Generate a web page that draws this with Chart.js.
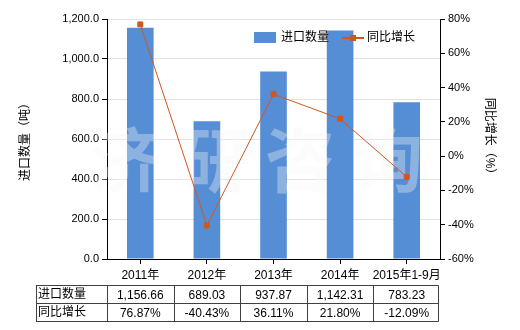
<!DOCTYPE html>
<html>
<head>
<meta charset="utf-8">
<script src="https://cdn.jsdelivr.net/npm/chart.js@4"></script>
<style>
  html, body { margin: 0; padding: 0; background: #fff; }
  #wrap { width: 520px; height: 330px; position: relative; }
</style>
</head>
<body>
<div id="wrap"><canvas id="c" width="520" height="330"></canvas></div>
<script>
const categories = ['2011年', '2012年', '2013年', '2014年', '2015年1-9月'];
const importQty = [1156.66, 689.03, 937.87, 1142.31, 783.23];
const growthPct = [76.87, -40.43, 36.11, 21.80, -12.09];
const qtyName = '进口数量';
const growthName = '同比增长';
const leftTitle = '进口数量（吨）';
const rightTitle = '同比增长（%）';
const watermark = ['济', '研', '咨', '询'];

const FONT = "'Liberation Sans', 'Noto Sans CJK SC', sans-serif";
const BAR = '#558ed5';
const LINE = '#d2561c';

function fmtQty(v) {
    return v.toLocaleString('en-US', { minimumFractionDigits: 2, maximumFractionDigits: 2 });
}

const extras = {
    id: 'extras',
    afterDatasetDraw(chart, args) {
        // watermark sits above the bars, under the line
        if (args.index !== 1) return;
        const ctx = chart.ctx;
        ctx.save();
        ctx.fillStyle = 'rgba(245,245,245,0.35)';
        ctx.font = "bold 70px 'Noto Sans CJK SC'";
        ctx.textAlign = 'center';
        ctx.textBaseline = 'middle';
        const xs = [125, 215, 300, 388];
        watermark.forEach((ch, i) => ctx.fillText(ch, xs[i], 160));
        ctx.restore();
    },
    afterDraw(chart) {
        const ctx = chart.ctx;
        const x = chart.scales.x;
        ctx.save();

        // legend
        ctx.font = '12px ' + FONT;
        ctx.textBaseline = 'middle';
        ctx.fillStyle = BAR;
        ctx.fillRect(254, 32, 22, 11);
        ctx.fillStyle = '#000';
        ctx.fillText(qtyName, 281, 38);
        ctx.strokeStyle = LINE;
        ctx.lineWidth = 2;
        ctx.beginPath(); ctx.moveTo(342, 38); ctx.lineTo(364, 38); ctx.stroke();
        ctx.fillStyle = LINE;
        ctx.fillRect(350, 35, 6, 6);
        ctx.fillStyle = '#000';
        ctx.fillText(growthName, 367, 38);

        // data table
        const half = (x.getPixelForValue(1) - x.getPixelForValue(0)) / 2;
        const left = 36, top = 285.5, rowH = 18;
        const right = x.getPixelForValue(categories.length - 1) + half - 1.5;
        const firstCol = x.getPixelForValue(0) - half;
        ctx.strokeStyle = '#404040';
        ctx.lineWidth = 1;
        ctx.beginPath();
        for (let r = 0; r <= 2; r++) {
            ctx.moveTo(left, top + r * rowH); ctx.lineTo(right, top + r * rowH);
        }
        ctx.moveTo(left + 0.5, top); ctx.lineTo(left + 0.5, top + 2 * rowH);
        ctx.moveTo(Math.round(firstCol) + 0.5, top); ctx.lineTo(Math.round(firstCol) + 0.5, top + 2 * rowH);
        categories.forEach((c, i) => {
            const bx = Math.round(x.getPixelForValue(i) + half) + 0.5;
            const xx = i === categories.length - 1 ? right : bx;
            ctx.moveTo(xx, top); ctx.lineTo(xx, top + 2 * rowH);
        });
        ctx.stroke();

        ctx.fillStyle = '#000';
        ctx.font = '12px ' + FONT;
        ctx.textAlign = 'left';
        ctx.fillText(qtyName, 38, top + rowH / 2);
        ctx.fillText(growthName, 38, top + rowH * 1.5);
        ctx.textAlign = 'center';
        categories.forEach((c, i) => {
            const cx = x.getPixelForValue(i);
            ctx.fillText(fmtQty(importQty[i]), cx, top + rowH / 2 + 1);
            ctx.fillText(growthPct[i].toFixed(2) + '%', cx, top + rowH * 1.5 + 1);
        });
        ctx.restore();
    }
};

new Chart(document.getElementById('c'), {
    type: 'bar',
    data: {
        labels: categories,
        datasets: [{
            type: 'line',
            label: growthName,
            data: growthPct,
            yAxisID: 'y1',
            borderColor: LINE,
            borderWidth: 1,
            backgroundColor: LINE,
            pointStyle: 'rect',
            pointRadius: 3.5,
            pointHoverRadius: 3.5,
            tension: 0,
            order: 0
        }, {
            label: qtyName,
            data: importQty,
            yAxisID: 'y',
            backgroundColor: BAR,
            barPercentage: 0.4,
            categoryPercentage: 1,
            order: 1
        }]
    },
    options: {
        responsive: false,
        animation: false,
        events: [],
        layout: { padding: { left: 0, right: 0, top: 19, bottom: 0 } },
        plugins: {
            legend: { display: false },
            tooltip: { enabled: false }
        },
        scales: {
            x: {
                offset: true,
                grid: { offset: false, drawOnChartArea: false, tickColor: '#000', tickLength: 5 },
                border: { color: '#000' },
                ticks: { color: '#000', font: { family: FONT, size: 12 }, padding: 4, maxRotation: 0, autoSkip: false },
                afterFit(s) { s.height = 71; }
            },
            y: {
                position: 'left',
                min: 0, max: 1200,
                ticks: {
                    stepSize: 200, color: '#000', font: { family: FONT, size: 11 }, padding: 3,
                    callback: v => v.toLocaleString('en-US', { minimumFractionDigits: 1, maximumFractionDigits: 1 })
                },
                grid: { color: '#e2e2e2', tickColor: '#000', tickLength: 5 },
                border: { color: '#000' },
                title: {
                    display: true, text: leftTitle, color: '#000',
                    font: { family: FONT, size: 12 }, padding: { top: 18, bottom: 0 }
                },
                afterFit(s) { s.width = 107; }
            },
            y1: {
                position: 'right',
                min: -60, max: 80,
                ticks: { stepSize: 20, color: '#000', font: { family: FONT, size: 11 }, padding: 3, callback: v => v + '%' },
                grid: { drawOnChartArea: false, tickColor: '#000', tickLength: 5 },
                border: { color: '#000' },
                title: {
                    display: true, text: rightTitle, color: '#000',
                    font: { family: FONT, size: 12 }, padding: { top: 23, bottom: 0 }
                },
                afterFit(s) { s.width = 80; }
            }
        }
    },
    plugins: [extras]
});
</script>
</body>
</html>
